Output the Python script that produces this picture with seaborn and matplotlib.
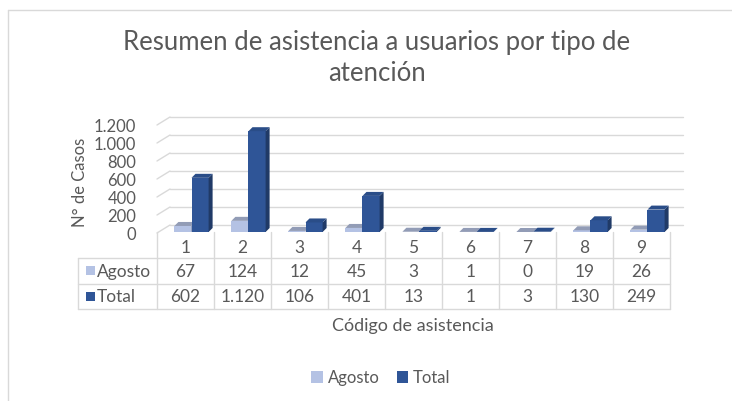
import matplotlib
matplotlib.use("Agg")
import numpy as np
import pandas as pd
import seaborn as sns
import matplotlib.pyplot as plt
from matplotlib.patches import Polygon, Rectangle
from matplotlib.lines import Line2D
from matplotlib.colors import to_rgb
from matplotlib.transforms import offset_copy, blended_transform_factory

# Data
codigos = ["1", "2", "3", "4", "5", "6", "7", "8", "9"]
agosto = [67, 124, 12, 45, 3, 1, 0, 19, 26]
total = [602, 1120, 106, 401, 13, 1, 3, 130, 249]
series = ["Agosto", "Total"]
y_ticks = [0, 200, 400, 600, 800, 1000, 1200]

title = "Resumen de asistencia a usuarios por tipo de\natención"
x_title = "Código de asistencia"
y_title = "N° de Casos"

colors = {"Agosto": "#b4c2e4", "Total": "#2f5597"}
text_color = "#595959"
grid_color = "#d9d9d9"


def fmt(v):
    return f"{v:,}".replace(",", ".")


def shade(c, f):
    return tuple(np.clip(np.array(to_rgb(c)) * f, 0, 1))


df = pd.DataFrame({
    "codigo": codigos * 2,
    "serie": ["Agosto"] * len(codigos) + ["Total"] * len(codigos),
    "casos": agosto + total,
})

sns.set_theme(style="white")
plt.rcParams["font.family"] = ["Lato", "DejaVu Sans"]

W, H = 732, 401
fig = plt.figure(figsize=(W / 100, H / 100), dpi=100)
# front plane of the 3D plot area
ax = fig.add_axes([157 / W, (H - 233) / H, 513 / W, 108 / H])

sns.barplot(data=df, x="codigo", y="casos", hue="serie", order=codigos,
            hue_order=series, palette=colors, width=0.6, saturation=1,
            ax=ax, legend=False)
ax.set_xlim(-0.5, len(codigos) - 0.5)
ax.set_ylim(0, 1200)
ax.set_yticks(y_ticks)
ax.set_yticklabels([fmt(t) for t in y_ticks])
ax.set_xticks([])
ax.set_xlabel("")
ax.set_ylabel("")
ax.tick_params(axis="y", length=0, pad=15, labelsize=12, labelcolor=text_color)
for s in ax.spines.values():
    s.set_visible(False)

# pixel -> data helpers
px_x = 513 / len(codigos)
px_y = 108 / 1200.0
back_dx, back_dy = 13, 8      # back wall offset in pixels
mid_dx, mid_dy = 6, 1         # bars shifted a bit into the depth
bar_dx, bar_dy = 4, 4         # bar depth

back = offset_copy(ax.transData, fig=fig, x=back_dx, y=back_dy, units="dots")
mid = offset_copy(ax.transData, fig=fig, x=mid_dx, y=mid_dy, units="dots")

# back wall gridlines and left wall diagonals
x0, x1 = ax.get_xlim()
for t in y_ticks:
    ax.plot([x0, x1], [t, t], color=grid_color, lw=1, transform=back,
            zorder=0.5, clip_on=False)
    ax.plot([x0, x0 + back_dx / px_x], [t, t + back_dy / px_y],
            color=grid_color, lw=1, zorder=0.5, clip_on=False)

# 3D bars
ddx = bar_dx / px_x
ddy = bar_dy / px_y
for k, cont in enumerate(ax.containers):
    base = colors[series[k]]
    z = 2 + k
    for p in cont.patches:
        p.set_transform(mid)
        p.set_zorder(z)
        p.set_edgecolor("none")
        x, w, h = p.get_x(), p.get_width(), p.get_height()
        side = Polygon([(x + w, 0), (x + w + ddx, ddy), (x + w + ddx, h + ddy), (x + w, h)],
                       closed=True, facecolor=shade(base, 0.68), edgecolor="none",
                       transform=mid, zorder=z, clip_on=False)
        top_col = shade(base, 0.9) if k else "#929cb6"
        top = Polygon([(x, h), (x + ddx, h + ddy), (x + w + ddx, h + ddy), (x + w, h)],
                      closed=True, facecolor=top_col, edgecolor="none",
                      transform=mid, zorder=z, clip_on=False)
        ax.add_patch(side)
        ax.add_patch(top)
        p.set_clip_on(False)

# data table below the plot (axes-fraction y, data x)
tr = blended_transform_factory(ax.transData, ax.transAxes)
ypx = lambda y: (233 - y) / 108.0   # figure pixel row -> axes fraction
row_top, row_a, row_t, row_bot = 232, 258, 284, 309
lab_left = x0 - (157 - 78) / px_x
bounds = np.arange(x0, x1 + 0.01, 1.0)
lw = 1
for b in bounds:
    ax.plot([b, b], [ypx(row_top), ypx(row_bot)], color=grid_color, lw=lw,
            transform=tr, clip_on=False)
ax.plot([lab_left, lab_left], [ypx(row_a), ypx(row_bot)], color=grid_color,
        lw=lw, transform=tr, clip_on=False)
for yy in (row_a, row_t, row_bot):
    ax.plot([lab_left, x1], [ypx(yy), ypx(yy)], color=grid_color, lw=lw,
            transform=tr, clip_on=False)

for i, c in enumerate(codigos):
    ax.text(i, ypx(248), c, ha="center", va="center",
            fontsize=12.5, color=text_color, transform=tr)
    ax.text(i, ypx((row_a + row_t) / 2 + 1), fmt(agosto[i]), ha="center",
            va="center", fontsize=12.5, color=text_color, transform=tr)
    ax.text(i, ypx((row_t + row_bot) / 2 + 1), fmt(total[i]), ha="center",
            va="center", fontsize=12.5, color=text_color, transform=tr)

for name, (ya, yb) in zip(series, [(row_a, row_t), (row_t, row_bot)]):
    yc = (ya + yb) / 2
    fig.patches.append(Rectangle((86 / W, (H - yc - 4) / H), 9 / W, 9 / H,
                                 facecolor=colors[name], edgecolor="none",
                                 transform=fig.transFigure, figure=fig))
    fig.text(97 / W, (H - yc - 1) / H, name, ha="left", va="center",
             fontsize=12.5, color=text_color)

# axis titles
fig.text(413 / W, (H - 326) / H, x_title, ha="center", va="center",
         fontsize=13, color=text_color)
fig.text(80 / W, (H - 182) / H, y_title, ha="center", va="center",
         rotation=90, fontsize=12, color=text_color)

# chart title
fig.text(377 / W, (H - 58) / H, title, ha="center", va="center",
         fontsize=18.5, color=text_color, linespacing=1.3)

# legend
handles = [Rectangle((0, 0), 1, 1, facecolor=colors[s], edgecolor="none") for s in series]
fig.legend(handles, series, loc="center", bbox_to_anchor=(381 / W, (H - 378) / H),
           ncol=2, frameon=False, handlelength=0.7, handleheight=0.7,
           handletextpad=0.3, columnspacing=1.0, fontsize=12,
           labelcolor=text_color)

# chart area border
fig.add_artist(Line2D([8 / W, 1], [(H - 10) / H] * 2, color=grid_color, lw=1,
                      transform=fig.transFigure))
fig.add_artist(Line2D([8 / W] * 2, [0, (H - 10) / H], color=grid_color, lw=1,
                      transform=fig.transFigure))

fig.savefig("out.png", dpi=100, facecolor="white")
